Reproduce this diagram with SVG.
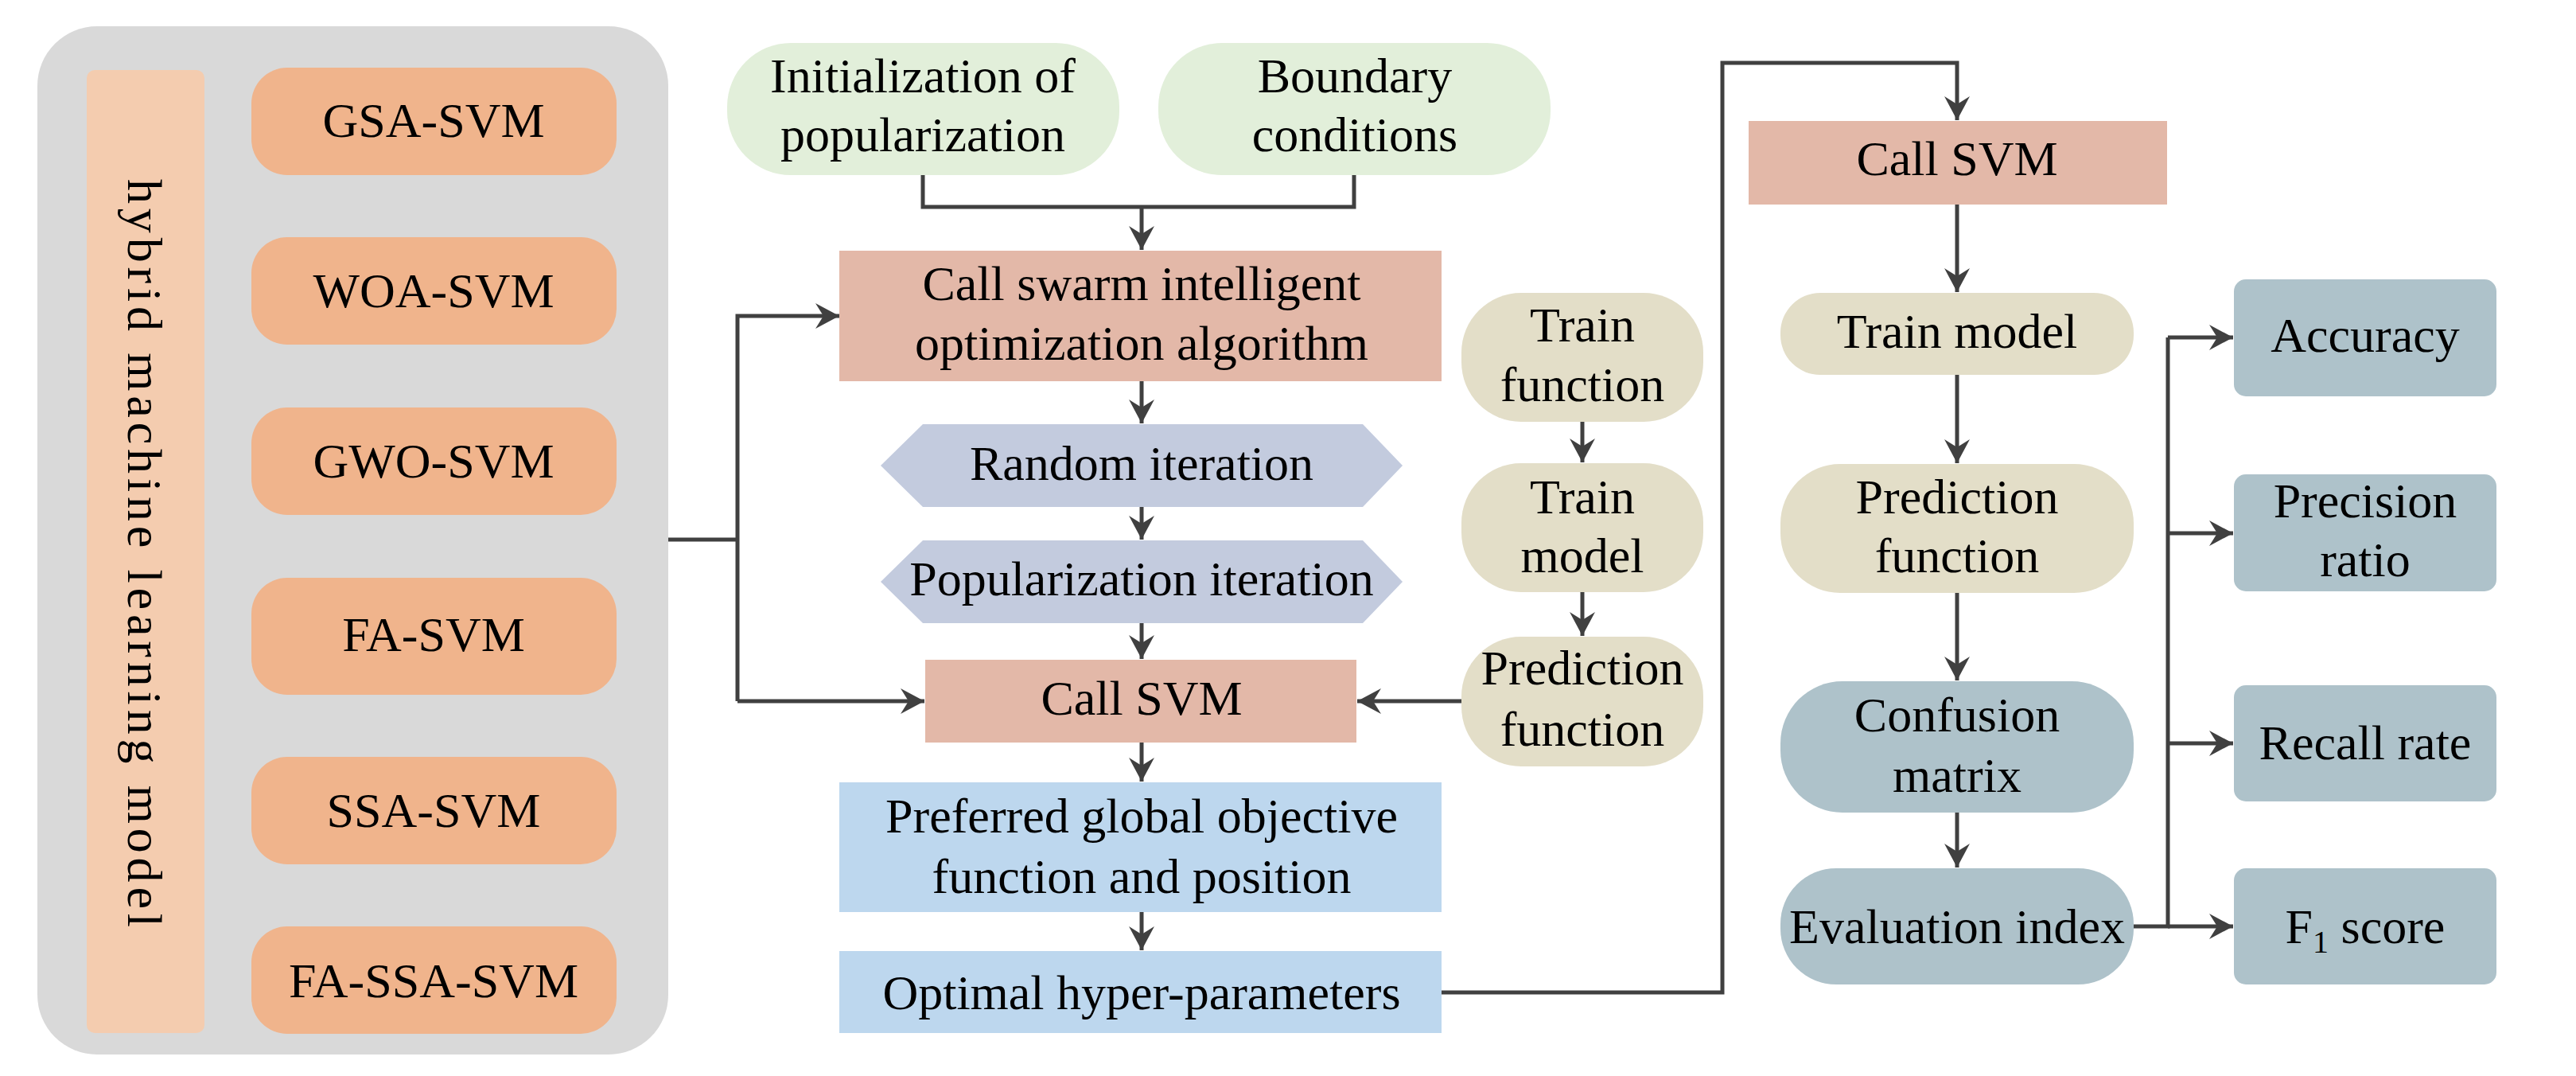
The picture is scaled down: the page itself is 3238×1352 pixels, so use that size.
<svg xmlns="http://www.w3.org/2000/svg" width="3238" height="1352" viewBox="0 0 3238 1352">
<style>
text{font-family:"Liberation Serif","Times New Roman",serif;font-size:62px;fill:#000;text-anchor:middle}
.c{fill:none;stroke:#404040;stroke-width:5}
.a{marker-end:url(#ah)}
.svm{fill:#F0B48C}
.green{fill:#E2EFDA}
.pink{fill:#E3B8A8}
.hex{fill:#C3CBDE}
.blue{fill:#BDD7EE}
.tan{fill:#E3DEC8}
.gb{fill:#AEC2CA}
</style>
<defs>
<marker id="ah" markerUnits="userSpaceOnUse" markerWidth="40" markerHeight="40" viewBox="-32 -20 34 40" refX="0" refY="0" orient="auto">
<path d="M0,0 L-30,-16 L-20,0 L-30,16 Z" fill="#404040"/>
</marker>
</defs>
<rect width="3238" height="1352" fill="#fff"/>
<g id="container">
<rect x="47" y="33" width="793" height="1292" rx="75" fill="#D9D9D9"/>
<rect x="109" y="88" width="148" height="1210" rx="10" fill="#F4CCAF"/>
<text transform="translate(161,695) rotate(90)" font-size="68" textLength="940" lengthAdjust="spacing">hybrid machine learning model</text>
</g>
<g id="gsa"><rect class="svm" x="316" y="85" width="459" height="135" rx="45"/><text x="545" y="172">GSA-SVM</text></g>
<g id="woa"><rect class="svm" x="316" y="298" width="459" height="135" rx="45"/><text x="545" y="386">WOA-SVM</text></g>
<g id="gwo"><rect class="svm" x="316" y="512" width="459" height="135" rx="45"/><text x="545" y="600">GWO-SVM</text></g>
<g id="fa"><rect class="svm" x="316" y="726" width="459" height="147" rx="45"/><text x="545" y="818">FA-SVM</text></g>
<g id="ssa"><rect class="svm" x="316" y="951" width="459" height="135" rx="45"/><text x="545" y="1039">SSA-SVM</text></g>
<g id="fassa"><rect class="svm" x="316" y="1164" width="459" height="135" rx="45"/><text x="545" y="1253">FA-SSA-SVM</text></g>

<g id="init"><rect class="green" x="914" y="54" width="493" height="166" rx="80"/><text x="1160" y="116">Initialization of</text><text x="1160" y="190">popularization</text></g>
<g id="boundary"><rect class="green" x="1456" y="54" width="493" height="166" rx="80"/><text x="1703" y="116">Boundary</text><text x="1703" y="190">conditions</text></g>
<g id="swarm"><rect class="pink" x="1055" y="315" width="757" height="164"/><text x="1435" y="377">Call swarm intelligent</text><text x="1435" y="452">optimization algorithm</text></g>
<g id="random"><polygon class="hex" points="1160,533 1713,533 1763,585 1713,637 1160,637 1107,585"/><text x="1435" y="603">Random iteration</text></g>
<g id="popiter"><polygon class="hex" points="1160,679 1713,679 1763,731 1713,783 1160,783 1107,731"/><text x="1435" y="748">Popularization iteration</text></g>
<g id="callsvm1"><rect class="pink" x="1163" y="829" width="542" height="104"/><text x="1435" y="898">Call SVM</text></g>
<g id="preferred"><rect class="blue" x="1055" y="983" width="757" height="163"/><text x="1435" y="1046">Preferred global objective</text><text x="1435" y="1122">function and position</text></g>
<g id="optimal"><rect class="blue" x="1055" y="1195" width="757" height="103"/><text x="1435" y="1268">Optimal hyper-parameters</text></g>

<g id="trainfn"><rect class="tan" x="1837" y="368" width="304" height="162" rx="75"/><text x="1989" y="429">Train</text><text x="1989" y="504">function</text></g>
<g id="trainmodel1"><rect class="tan" x="1837" y="582" width="304" height="162" rx="75"/><text x="1989" y="645">Train</text><text x="1989" y="719">model</text></g>
<g id="predfn1"><rect class="tan" x="1837" y="800" width="304" height="163" rx="75"/><text x="1989" y="860">Prediction</text><text x="1989" y="937">function</text></g>

<g id="callsvm2"><rect class="pink" x="2198" y="152" width="526" height="105"/><text x="2460" y="220">Call SVM</text></g>
<g id="trainmodel2"><rect class="tan" x="2238" y="368" width="444" height="103" rx="50"/><text x="2460" y="437">Train model</text></g>
<g id="predfn2"><rect class="tan" x="2238" y="583" width="444" height="162" rx="75"/><text x="2460" y="645">Prediction</text><text x="2460" y="719">function</text></g>
<g id="confusion"><rect class="gb" x="2238" y="856" width="444" height="165" rx="78"/><text x="2460" y="919">Confusion</text><text x="2460" y="995">matrix</text></g>
<g id="evaluation"><rect class="gb" x="2238" y="1091" width="444" height="146" rx="70"/><text x="2460" y="1185">Evaluation index</text></g>

<g id="accuracy"><rect class="gb" x="2808" y="351" width="330" height="147" rx="15"/><text x="2973" y="442">Accuracy</text></g>
<g id="precision"><rect class="gb" x="2808" y="596" width="330" height="147" rx="15"/><text x="2973" y="650">Precision</text><text x="2973" y="724">ratio</text></g>
<g id="recall"><rect class="gb" x="2808" y="861" width="330" height="146" rx="15"/><text x="2973" y="954">Recall rate</text></g>
<g id="f1"><rect class="gb" x="2808" y="1091" width="330" height="146" rx="15"/><text x="2973" y="1185">F<tspan font-size="40" dy="12">1</tspan><tspan dy="-12"> score</tspan></text></g>

<g id="connectors">
<path class="c" d="M840,678 H927"/>
<path class="c a" d="M927,881 V397 H1055"/>
<path class="c a" d="M927,881 H1162"/>
<path class="c" d="M1160,220 V260 H1702 V220"/>
<path class="c a" d="M1435,260 V314"/>
<path class="c a" d="M1435,479 V532"/>
<path class="c a" d="M1435,637 V678"/>
<path class="c a" d="M1435,783 V828"/>
<path class="c a" d="M1435,933 V982"/>
<path class="c a" d="M1435,1146 V1194"/>
<path class="c a" d="M1989,530 V581"/>
<path class="c a" d="M1989,744 V799"/>
<path class="c a" d="M1837,881 H1706"/>
<path class="c a" d="M1812,1247 H2165 V79 H2460 V151"/>
<path class="c a" d="M2460,257 V367"/>
<path class="c a" d="M2460,471 V582"/>
<path class="c a" d="M2460,745 V855"/>
<path class="c a" d="M2460,1021 V1090"/>
<path class="c" d="M2682,1164 H2725 V424"/>
<path class="c a" d="M2725,424 H2807"/>
<path class="c a" d="M2725,670 H2807"/>
<path class="c a" d="M2725,934 H2807"/>
<path class="c a" d="M2725,1164 H2807"/>
</g>
</svg>
